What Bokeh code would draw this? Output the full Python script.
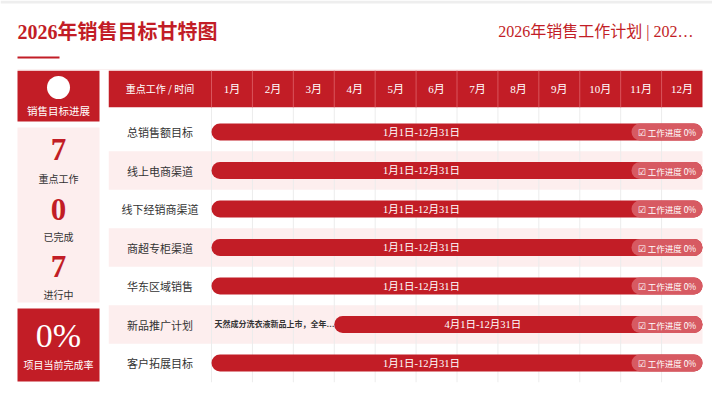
from bokeh.plotting import figure
from bokeh.layouts import column, row
from bokeh.models import Range1d, ColumnDataSource
from bokeh.core.properties import value
from bokeh.embed import file_html
from bokeh.resources import INLINE

# ---------------- data ----------------
title_text = "2026年销售目标甘特图"
subtitle_text = "2026年销售工作计划 | 202…"
months = ["1月", "2月", "3月", "4月", "5月", "6月", "7月", "8月", "9月", "10月", "11月", "12月"]
header_label = "重点工作 / 时间"
tasks = ["总销售额目标", "线上电商渠道", "线下经销商渠道", "商超专柜渠道", "华东区域销售", "新品推广计划", "客户拓展目标"]
start_month = [0, 0, 0, 0, 0, 3, 0]      # months elapsed before the task starts
end_month = [12, 12, 12, 12, 12, 12, 12]
date_labels = ["1月1日-12月31日"] * 5 + ["4月1日-12月31日", "1月1日-12月31日"]
progress = [0, 0, 0, 0, 0, 0, 0]
notes = ["", "", "", "", "", "天然成分洗衣液新品上市，全年…", ""]
key_tasks = 7
completed = 0
in_progress = 7
completion_rate = "0%"

# ---------------- style ----------------
RED = "#c21d26"
PINK = "#fdeeee"
PILL = "#d75a62"
DARK = "#333333"
GRID = "#ececec"
HSEP = "#d9555c"
SERIF = "Liberation Serif, Noto Sans CJK SC"
SANS = "Noto Sans CJK SC"


def bare(w, h, xr, yr):
    p = figure(width=w, height=h, x_range=xr, y_range=yr, output_backend="svg",
               toolbar_location=None, min_border=0, x_axis_location=None,
               y_axis_location=None)
    p.grid.visible = False
    p.outline_line_color = None
    p.background_fill_color = "white"
    p.border_fill_color = "white"
    return p


# ---------------- title strip ----------------
tp = bare(712, 70, Range1d(0, 712), Range1d(70, 0))
tp.quad(left=[0], right=[712], top=[0], bottom=[3], fill_color="#eeeeee", line_color=None)
tp.text(x=[17], y=[31], text=[title_text], text_font=value(SERIF), text_font_size="20px",
        text_font_style="bold", text_color=RED, text_baseline="middle", text_align="left")
tp.text(x=[693], y=[31], text=[subtitle_text], text_font=value(SERIF), text_font_size="16px",
        text_color=RED, text_baseline="middle", text_align="right")
tp.segment(x0=[17], y0=[57], x1=[59], y1=[57], line_color=RED, line_width=2)
tp.segment(x0=[17], y0=[69.5], x1=[702], y1=[69.5], line_color="#f7e0e0", line_width=1)

# ---------------- left summary panel ----------------
lp = bare(108, 327, Range1d(0, 108), Range1d(327, 0))
lp.quad(left=[17, 17, 17], right=[99, 99, 99], top=[0, 57, 238], bottom=[51, 232, 311],
        fill_color=[RED, PINK, RED], line_color=None)
lp.scatter(x=[58], y=[17], size=23, fill_color="white", line_color=None)
lp.text(x=[58], y=[40], text=["销售目标进展"], text_font=value(SANS), text_font_size="10.5px",
        text_color="white", text_align="center", text_baseline="middle")
stat_src = ColumnDataSource(dict(x=[58, 58, 58], y=[79, 139, 196],
                                 v=[str(key_tasks), str(completed), str(in_progress)]))
lp.text(x="x", y="y", text="v", source=stat_src, text_font=value(SERIF), text_font_size="31px",
        text_font_style="bold", text_color=RED, text_align="center", text_baseline="middle")
lp.text(x=[58, 58, 58], y=[108, 166, 224], text=["重点工作", "已完成", "进行中"],
        text_font=value(SANS), text_font_size="10px", text_color=DARK,
        text_align="center", text_baseline="middle")
lp.text(x=[58], y=[265], text=[completion_rate], text_font=value(SERIF), text_font_size="34px",
        text_color="white", text_align="center", text_baseline="middle")
lp.text(x=[58], y=[294], text=["项目当前完成率"], text_font=value(SANS), text_font_size="10px",
        text_color="white", text_align="center", text_baseline="middle")

# ---------------- gantt ----------------
PX = 491 / 12.0       # pixels per month
RH = 38.5             # pixels per row
x0 = -(211 - 108) / PX
x1 = 12 + (712 - 702) / PX
y_top = -0.5 - (112.25 - 70) / RH
y_bot = -0.5 + (397 - 112.25) / RH
head_bot = -0.5 - (112.25 - 106.7) / RH

gp = bare(604, 327, Range1d(x0, x1), Range1d(y_bot, y_top))

n = len(tasks)
rows = list(range(n))
stripe = [i for i in rows if i % 2 == 1]
gp.quad(left=[x0] * len(stripe), right=[12] * len(stripe),
        top=[i - 0.5 for i in stripe], bottom=[i + 0.5 for i in stripe],
        fill_color=PINK, line_color=None)

# vertical grid
gx = list(range(0, 12))
gp.segment(x0=gx, y0=[head_bot] * len(gx), x1=gx, y1=[n - 0.5] * len(gx),
           line_color=GRID, line_width=1)

# header
gp.quad(left=[x0], right=[12], top=[y_top], bottom=[head_bot], fill_color=RED, line_color=None)
gp.segment(x0=gx, y0=[y_top] * len(gx), x1=gx, y1=[head_bot] * len(gx),
           line_color=HSEP, line_width=1)
hy = (y_top + head_bot) / 2
gp.text(x=[(x0 + 0) / 2], y=[hy], text=[header_label], text_font=value(SANS),
        text_font_size="10px", text_color="white", text_align="center", text_baseline="middle")
gp.text(x=[i + 0.5 for i in range(12)], y=[hy] * 12, text=months, text_font=value(SERIF),
        text_font_size="11px", text_color="white", text_align="center", text_baseline="middle")

# task labels
gp.text(x=[(x0 + 0) / 2] * n, y=rows, text=tasks, text_font=value(SANS), text_font_size="11px",
        text_color=DARK, text_align="center", text_baseline="middle")

# bars (round caps)
BAR_PX = 17
r = (BAR_PX / 2) / PX
pill_w = 71 / PX
bar_src = ColumnDataSource(dict(
    s=[v + r for v in start_month], e=[v - r for v in end_month], y=rows,
    ps=[v - pill_w + r for v in end_month], pe=[v - r for v in end_month],
    lx=[(s + e - pill_w) / 2 for s, e in zip(start_month, end_month)],
    px=[e - pill_w / 2 for e in end_month],
    lab=date_labels,
    ptxt=["☑ 工作进度 %d%%" % v for v in progress],
    nx=[3 / PX] * n, note=notes,
))
gp.segment(x0="s", y0="y", x1="e", y1="y", source=bar_src, line_color=RED,
           line_width=BAR_PX, line_cap="round")
gp.segment(x0="ps", y0="y", x1="pe", y1="y", source=bar_src, line_color=PILL,
           line_width=BAR_PX, line_cap="round")
gp.text(x="lx", y="y", text="lab", source=bar_src, text_font=value(SERIF), text_font_size="10.5px",
        text_color="white", text_align="center", text_baseline="middle")
gp.text(x="px", y="y", text="ptxt", source=bar_src, text_font=value(SANS), text_font_size="8.5px",
        text_color="white", text_align="center", text_baseline="middle")
gp.text(x="nx", y="y", text="note", source=bar_src, text_font=value(SERIF), text_font_size="8px",
        text_font_style="bold", text_color=DARK, text_align="left", text_baseline="middle")

layout = column(tp, row(lp, gp))
open("out.html", "w").write(file_html(layout, INLINE))
